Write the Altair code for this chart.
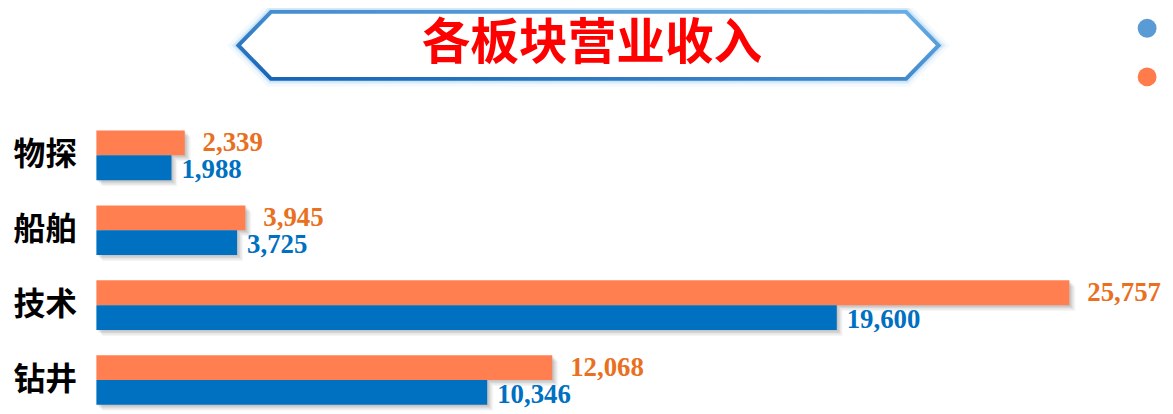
import altair as alt
import pandas as pd

# ---- data ----
categories = ["物探", "船舶", "技术", "钻井"]
series_names = ["2018年", "2019年"]          # blue series, orange series (names are off-picture in the reference)
blue_values = [1988, 3725, 19600, 10346]
orange_values = [2339, 3945, 25757, 12068]
title_text = "各板块营业收入"

BLUE = "#0070C0"
ORANGE = "#FF7F50"
BLUE_TXT = "#0070C0"
ORANGE_TXT = "#E8701E"

df_blue = pd.DataFrame({"category": categories, "value": blue_values, "series": series_names[0]})
df_orange = pd.DataFrame({"category": categories, "value": orange_values, "series": series_names[1]})
df_all = pd.concat([df_blue, df_orange], ignore_index=True)
one = pd.DataFrame({"k": [0]})

PLOT_W = 1076
PLOT_H = 276.2
BAR_H = 25

y_scale = alt.Scale(domain=categories, paddingInner=0.337, paddingOuter=0)
y_axis = alt.Axis(
    title=None, ticks=False, domain=False, labelPadding=20,
    labelFont="Noto Sans CJK SC", labelFontSize=32, labelFontWeight="bold",
    labelColor="#000000", labelAlign="right", labelBaseline="middle",
)
x_scale = alt.Scale(domain=[0, 28289], nice=False, zero=True)


def enc(chart):
    return chart.encode(
        x=alt.X("value:Q", scale=x_scale, axis=None),
        y=alt.Y("category:N", scale=y_scale, sort=categories, axis=y_axis),
    )


layers = []

# ---- soft drop shadows (several stacked translucent copies) ----
for k, op in [(1.5, 0.10), (3.0, 0.10), (4.5, 0.08), (6.0, 0.05)]:
    for df, yoff in [(df_orange, -12.5), (df_blue, 12.5)]:
        layers.append(
            enc(alt.Chart(df).mark_bar(
                color="#404040", opacity=op, height=BAR_H,
                yOffset=yoff + k, xOffset=k, x2Offset=k,
            ))
        )

# ---- bars ----
layers.append(enc(alt.Chart(df_orange).mark_bar(color=ORANGE, height=BAR_H, yOffset=-12.5)))
layers.append(enc(alt.Chart(df_blue).mark_bar(color=BLUE, height=BAR_H, yOffset=12.5)))

# ---- value labels ----
label_font = dict(font="Liberation Serif", fontSize=27, fontWeight="bold", align="left", baseline="middle")
layers.append(enc(alt.Chart(df_orange).mark_text(color=ORANGE_TXT, dx=18, dy=-12, **label_font)).encode(
    text=alt.Text("value:Q", format=",")))
layers.append(enc(alt.Chart(df_blue).mark_text(color=BLUE_TXT, dx=10, dy=15, **label_font)).encode(
    text=alt.Text("value:Q", format=",")))

# ---- legend (only the symbols are visible, as in the reference) ----
layers.append(
    enc(alt.Chart(df_all).mark_circle(size=0, opacity=1)).encode(
        color=alt.Color(
            "series:N",
            scale=alt.Scale(domain=series_names, range=["#5B9BD5", "#FF7B4C"]),
            legend=alt.Legend(
                orient="none", legendX=1048.5, legendY=-112.5, title=None,
                symbolType="circle", symbolSize=360, symbolStrokeWidth=0,
                labelFontSize=14, labelOffset=40, rowPadding=30, padding=0,
                labelFont="Noto Sans CJK SC", labelExpr="''",
            ),
        )
    )
)

# ---- title banner ----
BANNER_PATH = "M -1 0 L -0.907 -0.0957 L 0.907 -0.0957 L 1 0 L 0.907 0.0957 L -0.907 0.0957 Z"
BANNER_SIZE = 705 ** 2
bx, by = 495.5, -85.75
stroke_grad = alt.LinearGradient(
    gradient="linear", x1=0, y1=1, x2=1, y2=0,
    stops=[
        alt.GradientStop(offset=0, color="#1463b5"),
        alt.GradientStop(offset=0.45, color="#3f88cc"),
        alt.GradientStop(offset=1, color="#6aaee2"),
    ],
)
for sw, so in [(16, 0.10), (10, 0.18), (7, 0.25)]:
    layers.append(
        alt.Chart(one).mark_point(
            shape=BANNER_PATH, size=BANNER_SIZE, filled=False, stroke="#8cc4f0",
            strokeWidth=sw, strokeOpacity=so, opacity=1,
        ).encode(x=alt.value(bx), y=alt.value(by))
    )
layers.append(
    alt.Chart(one).mark_point(
        shape=BANNER_PATH, size=BANNER_SIZE, filled=True, fill="#ffffff",
        stroke=stroke_grad, strokeWidth=4, opacity=1, fillOpacity=1, strokeOpacity=1,
    ).encode(x=alt.value(bx), y=alt.value(by))
)
layers.append(
    alt.Chart(one).mark_text(
        text=title_text, font="Noto Sans CJK SC", fontSize=49, fontWeight="bold",
        color="#FF0000", align="center", baseline="middle",
    ).encode(x=alt.value(499), y=alt.value(-87))
)

chart = alt.layer(*layers).properties(
    width=PLOT_W,
    height=PLOT_H,
    autosize=alt.AutoSizeParams(type="none"),
    padding={"left": 89, "top": 122, "right": 0, "bottom": 6},
    background="#ffffff",
).configure_view(stroke=None)

chart.save("out.html", embed_options={"renderer": "svg", "actions": False})
